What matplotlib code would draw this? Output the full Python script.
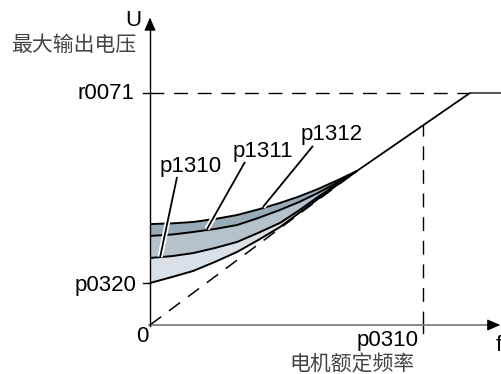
import numpy as np
import matplotlib
matplotlib.use("Agg")
import matplotlib.pyplot as plt
import matplotlib.patheffects as pe

plt.rcParams['lines.scale_dashes'] = False

# f normalised so that p0310 = 1, U normalised so that r0071 = 1
f_pts = [0.0, 0.081, 0.158, 0.238, 0.319, 0.396, 0.476, 0.546, 0.615, 0.685, 0.758]
u_p1312 = [0.435, 0.438, 0.444, 0.457, 0.474, 0.498, 0.526, 0.554, 0.586, 0.623, 0.664]
u_p1311 = [0.384, 0.390, 0.401, 0.414, 0.431, 0.461, 0.496, 0.530, 0.569, 0.614, 0.664]
u_p1310 = [0.289, 0.297, 0.310, 0.332, 0.358, 0.397, 0.440, 0.494, 0.552, 0.608, 0.664]
u_p0320 = [0.181, 0.207, 0.233, 0.272, 0.315, 0.366, 0.422, 0.483, 0.543, 0.603, 0.664]

# linear characteristic and limit
lin_f = [0.0, 0.758]
lin_u = [0.0, 0.664]
main_f = [0.758, 1.172, 1.29]
main_u = [0.664, 1.0, 1.0]
f_rated = 1.0
u_rated = 0.860
u_max = 1.0
u_boost = 0.181

latin = ['Liberation Sans', 'DejaVu Sans']
cjk = ['Noto Sans CJK SC', 'DejaVu Sans']
fs = 16
fs_cjk = 15
dash = (0, (10, 7))

fig = plt.figure(figsize=(5.02, 3.74), dpi=100)
ax = fig.add_axes([0, 0, 1, 1])
ax.set_xlim(-0.5495, 1.2894)
ax.set_ylim(-0.2112, 1.4009)
ax.axis('off')

f = np.array(f_pts)
ax.fill_between(f, u_p0320, u_p1310, color='#d9e1e6', lw=0)
ax.fill_between(f, u_p1310, u_p1311, color='#b6c2cb', lw=0)
ax.fill_between(f, u_p1311, u_p1312, color='#9aabb8', lw=0)
for u in (u_p0320, u_p1310, u_p1311, u_p1312):
    ax.plot(f, u, color='black', lw=1.4, solid_capstyle='butt')

# dashed helper lines
ax.plot(lin_f, lin_u, color='black', lw=1.1, ls=dash)
ax.plot([0, main_f[1]], [u_max, u_max], color='black', lw=1.0, ls=dash)
ax.plot([f_rated, f_rated], [0, u_rated], color='black', lw=1.0, ls=dash)
ax.plot([f_rated, f_rated], [-0.035, 0], color='black', lw=1.0)

# main characteristic
ax.plot(main_f[:2], main_u[:2], color='black', lw=1.3)
ax.plot(main_f[1:], main_u[1:], color='#444444', lw=1.3)

# axes
ax.plot([-0.005, 1.245], [0, 0], color='#808080', lw=1.3)
ax.plot([0, 0], [-0.005, 1.29], color='black', lw=1.0)
ax.annotate('', xy=(1.283, 0), xytext=(1.24, 0),
            arrowprops=dict(arrowstyle='-|>,head_length=0.8,head_width=0.35',
                            color='black', lw=0.8, shrinkA=0, shrinkB=0))
ax.annotate('', xy=(0, 1.325), xytext=(0, 1.27),
            arrowprops=dict(arrowstyle='-|>,head_length=0.8,head_width=0.35',
                            color='black', lw=0.8, shrinkA=0, shrinkB=0))
for u in (u_max, u_boost):
    ax.plot([-0.026, 0], [u, u], color='black', lw=1.0)

# leader lines
halo = [pe.Stroke(linewidth=3.8, foreground='white'), pe.Normal()]
leaders = [((0.099, 0.638), (0.037, 0.293)),
           ((0.348, 0.703), (0.209, 0.414)),
           ((0.597, 0.772), (0.414, 0.509))]
for (x0, y0), (x1, y1) in leaders:
    ax.plot([x0, x1], [y0, y1], color='black', lw=1.3,
            solid_capstyle='butt', path_effects=halo)

# labels
ax.text(0.150, 0.685, 'p1310', family=latin, fontsize=fs, ha='center', va='center')
ax.text(0.414, 0.750, 'p1311', family=latin, fontsize=fs, ha='center', va='center')
ax.text(0.667, 0.823, 'p1312', family=latin, fontsize=fs, ha='center', va='center')
ax.text(-0.055, u_max, 'r0071', family=latin, fontsize=fs, ha='right', va='center')
ax.text(-0.048, u_boost - 0.01, 'p0320', family=latin, fontsize=fs, ha='right', va='center')
ax.text(-0.029, -0.050, '0', family=latin, fontsize=fs, ha='center', va='center')
ax.text(-0.062, 1.312, 'U', family=latin, fontsize=fs, ha='center', va='center')
ax.text(0.982, -0.068, 'p0310', family=latin, fontsize=fs, ha='right', va='center')
ax.text(1.265, -0.088, 'f', family=latin, fontsize=fs, ha='left', va='center')
ax.text(-0.278, 1.207, '最大输出电压', family=cjk, fontsize=fs_cjk, color='#444444',
        ha='center', va='center')
ax.text(0.740, -0.170, '电机额定频率', family=cjk, fontsize=fs_cjk, color='#444444',
        ha='center', va='center')

fig.savefig('out.png', dpi=100)
